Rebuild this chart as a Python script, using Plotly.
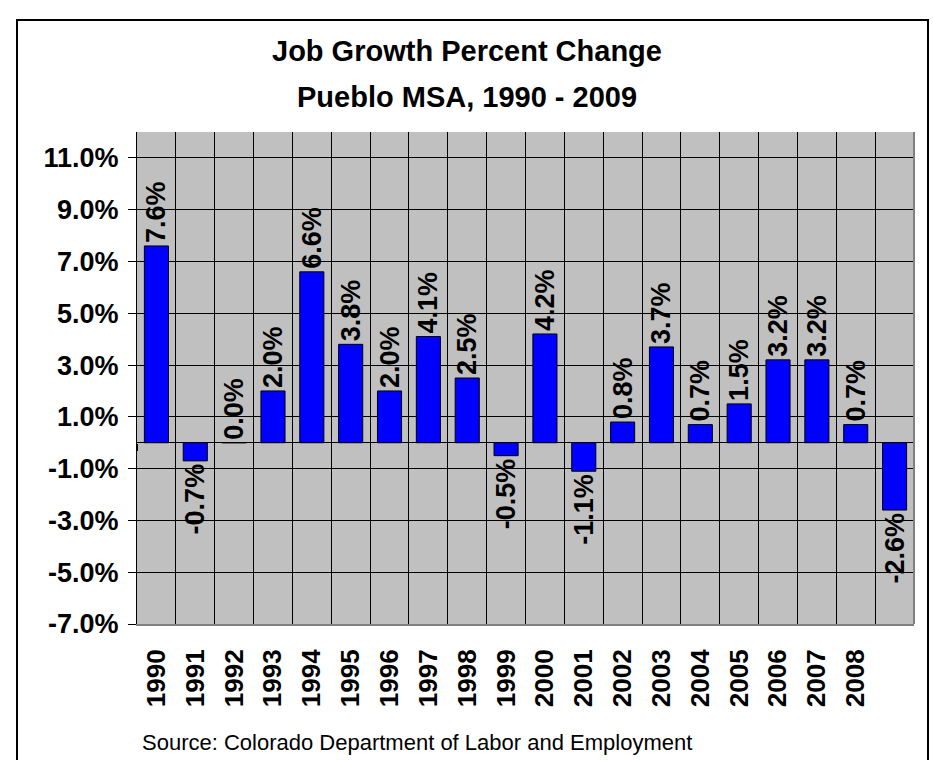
import plotly.graph_objects as go

# Annual job growth, Pueblo MSA
years = [str(y) for y in range(1990, 2010)]
growth_pct = [7.6, -0.7, 0.0, 2.0, 6.6, 3.8, 2.0, 4.1, 2.5, -0.5,
              4.2, -1.1, 0.8, 3.7, 0.7, 1.5, 3.2, 3.2, 0.7, -2.6]
# the final year carries no axis label
tick_labels = [str(y) for y in range(1990, 2009)] + [""]
y_ticks = [-7, -5, -3, -1, 1, 3, 5, 7, 9, 11]

title_lines = ["Job Growth Percent Change", "Pueblo MSA, 1990 - 2009"]
source_note = "Source: Colorado Department of Labor and Employment"

FONT = "Liberation Sans, Arial, sans-serif"

W, H = 933, 760
L, R, T, B = 137, 19, 132, 136
PW, PH = W - L - R, H - T - B
Y_MIN, Y_MAX = -7, 12


def px_x(x):
    return (x - L) / PW


def px_y(y):
    return (H - B - y) / PH


fig = go.Figure()
fig.add_trace(go.Bar(
    x=years,
    y=growth_pct,
    text=[f"{v:.1f}%" for v in growth_pct],
    textposition="outside",
    textangle=-90,
    constraintext="none",
    cliponaxis=False,
    textfont=dict(family=FONT, size=27, color="black", weight="bold"),
    marker=dict(color="#0000FF", line=dict(color="black", width=1)),
    hoverinfo="skip",
))
# carrier trace for the category axis that crosses at zero
fig.add_trace(go.Scatter(x=years, y=[0] * len(years), mode="none",
                         xaxis="x2", hoverinfo="skip"))

fig.update_layout(
    width=W, height=H,
    margin=dict(l=L, r=R, t=T, b=B),
    paper_bgcolor="white",
    plot_bgcolor="#C0C0C0",
    showlegend=False,
    bargap=0.38,
    font=dict(family=FONT, color="black"),
    xaxis2=dict(
        type="category",
        overlaying="x",
        anchor="free",
        position=(0 - Y_MIN) / (Y_MAX - Y_MIN),
        range=[-0.5, 19.5],
        tickson="boundaries",
        ticks="outside",
        ticklen=7,
        tickcolor="black",
        showticklabels=False,
        showgrid=False,
        showline=False,
        zeroline=False,
    ),
)

fig.update_xaxes(
    selector=dict(overlaying=None),
)
fig.layout.xaxis.update(
    type="category",
    tickmode="array",
    tickvals=years,
    ticktext=tick_labels,
    tickangle=-90,
    tickson="boundaries",
    ticks="",
    ticklabelstandoff=13,
    tickfont=dict(family=FONT, size=26, color="black", weight="bold"),
    showgrid=True,
    gridcolor="black",
    gridwidth=1,
    showline=True,
    linecolor="#808080",
    linewidth=2,
    range=[-0.5, 19.5],
)

fig.update_yaxes(
    range=[Y_MIN, Y_MAX],
    tickmode="array",
    tickvals=y_ticks,
    ticktext=[f"{v:.1f}%" for v in y_ticks],
    ticks="outside",
    ticklen=8,
    tickcolor="black",
    ticklabelstandoff=4,
    tickfont=dict(family=FONT, size=27, color="black", weight="bold"),
    showgrid=True,
    gridcolor="black",
    gridwidth=1,
    zeroline=True,
    zerolinecolor="black",
    zerolinewidth=1,
    showline=True,
    linecolor="black",
    linewidth=1,
)

# right edge of the plot area
fig.add_shape(type="line", xref="x domain", yref="y domain",
              x0=1, x1=1, y0=0, y1=1,
              line=dict(color="#808080", width=2))

# outer chart frame
fig.add_shape(type="rect", xref="paper", yref="paper",
              x0=px_x(17), x1=px_x(928), y0=px_y(20), y1=px_y(790),
              line=dict(color="black", width=2), layer="above")

for line, ycen in zip(title_lines, [51, 97]):
    fig.add_annotation(text=f"<b>{line}</b>", xref="paper", yref="paper",
                       x=px_x(467), y=px_y(ycen), xanchor="center",
                       yanchor="middle", showarrow=False,
                       font=dict(family=FONT, size=29, color="black"))

fig.add_annotation(text=source_note, xref="paper", yref="paper",
                   x=px_x(140), y=px_y(757), xanchor="left", yanchor="bottom",
                   showarrow=False,
                   font=dict(family=FONT, size=22, color="black"))

fig.write_html("out.html")
